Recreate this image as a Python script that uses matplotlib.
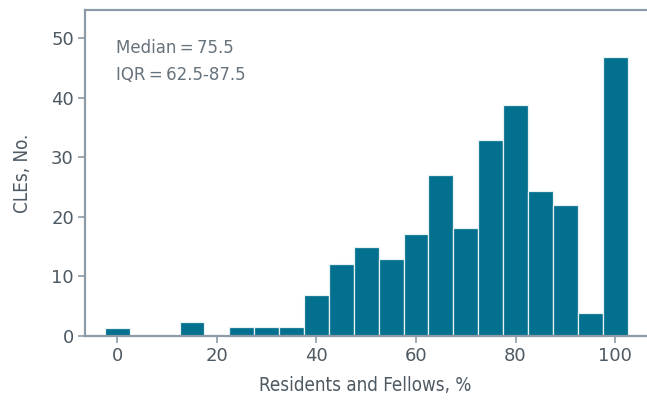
import matplotlib
matplotlib.use("Agg")
import matplotlib.pyplot as plt

# bin centers (percent of residents and fellows) and CLE counts per bin
bin_centers = [0, 15, 25, 30, 35, 40, 45, 50, 55, 60, 65, 70, 75, 80, 85, 90, 95, 100]
cle_counts = [1.4, 2.4, 1.5, 1.5, 1.5, 6.9, 12.1, 14.9, 12.9, 17.1, 27.0, 18.1, 32.9, 38.8, 24.3, 22.0, 3.9, 46.8]
bin_width = 5

x_ticks = [0, 20, 40, 60, 80, 100]
y_ticks = [0, 10, 20, 30, 40, 50]
stats_text = "Median\u2009=\u200975.5\nIQR\u2009=\u200962.5-87.5"

bar_color = "#02708e"
spine_color = "#8c9ba7"
text_color = "#4d5963"

plt.rcParams["font.family"] = ["DejaVu Sans"]

fig = plt.figure(figsize=(6.47, 4.0), dpi=100)
ax = fig.add_axes([0.1314, 0.16, 0.867, 0.815])

ax.bar(bin_centers, cle_counts, width=bin_width, color=bar_color,
       edgecolor="#e8f1f4", linewidth=0.9)

ax.set_xlim(-6.5, 106.2)
ax.set_ylim(0, 54.7)
ax.set_xticks(x_ticks)
ax.set_yticks(y_ticks)

ax.spines["right"].set_visible(False)
for side in ["left", "bottom", "top"]:
    ax.spines[side].set_color(spine_color)
    ax.spines[side].set_linewidth(1.6)

ax.tick_params(axis="both", colors=spine_color, length=5, width=1.2,
               labelsize=13, labelcolor=text_color, pad=3)

ax.set_xlabel("Residents and Fellows, %", fontsize=13.5, color=text_color,
              fontstretch="condensed", labelpad=8)
ax.set_ylabel("CLEs, No.", fontsize=13.5, color=text_color,
              fontstretch="condensed", labelpad=14)

ax.text(0.055, 0.91, stats_text, transform=ax.transAxes, fontsize=12,
        color="#66727c", va="top", ha="left", linespacing=1.6)

fig.savefig("out.png", dpi=100)
